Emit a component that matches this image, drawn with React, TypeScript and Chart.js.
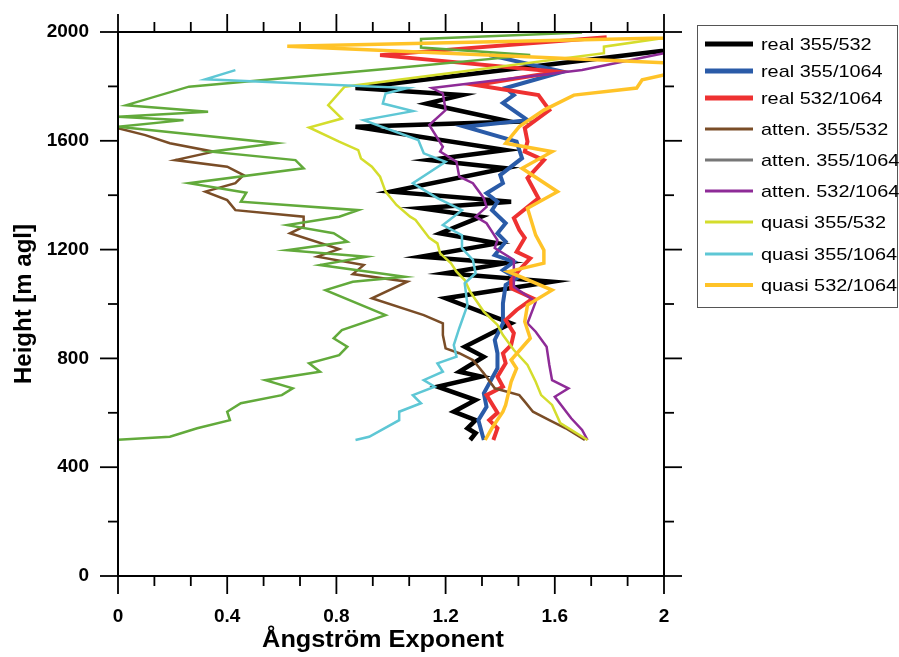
import React, { useEffect, useRef } from "react";
import { Chart, registerables } from "chart.js";

Chart.register(...registerables);

// ---- axis ticks ----
const xTickLabels = ["0", "0.4", "0.8", "1.2", "1.6", "2"];
const xMajorTicks = [0, 0.4, 0.8, 1.2, 1.6, 2.0];
const xMinorTicks = [0.1333, 0.2667, 0.5333, 0.6667, 0.9333, 1.0667, 1.3333, 1.4667, 1.7333, 1.8667];
const yTickLabels = ["0", "400", "800", "1200", "1600", "2000"];
const yMajorTicks = [0, 400, 800, 1200, 1600, 2000];
const yMinorTicks = [200, 600, 1000, 1400, 1800];

// ---- series: heights [m agl] and Angstrom exponents ----
const hReal355_532 = [500, 525, 543, 573, 604, 647, 696, 733, 751, 806, 843, 929, 1021, 1082, 1113, 1150, 1174, 1223, 1260, 1321, 1352, 1376, 1413, 1499, 1529, 1566, 1652, 1670, 1737, 1768, 1794, 1930, 1950];
const aeReal355_532 = [1.29, 1.31, 1.28, 1.31, 1.23, 1.31, 1.17, 1.33, 1.25, 1.34, 1.27, 1.44, 1.20, 1.59, 1.20, 1.42, 1.11, 1.39, 1.18, 1.33, 1.11, 1.44, 1.00, 1.42, 1.14, 1.42, 0.87, 1.44, 1.13, 1.26, 0.87, 1.99, 2.15];

const hReal355_1064 = [500, 573, 622, 672, 764, 819, 868, 929, 1002, 1070, 1095, 1125, 1155, 1180, 1229, 1260, 1297, 1345, 1376, 1407, 1444, 1474, 1536, 1597, 1652, 1676, 1739, 1768, 1794, 1854, 1915];
const aeReal355_1064 = [1.34, 1.32, 1.35, 1.34, 1.39, 1.39, 1.38, 1.41, 1.41, 1.42, 1.46, 1.41, 1.45, 1.38, 1.42, 1.39, 1.42, 1.37, 1.39, 1.35, 1.41, 1.40, 1.48, 1.46, 1.27, 1.50, 1.41, 1.45, 1.42, 1.63, 1.36];

const hReal532_1064 = [500, 543, 573, 600, 665, 696, 733, 782, 819, 849, 893, 941, 978, 1021, 1058, 1088, 1125, 1168, 1192, 1243, 1272, 1316, 1389, 1463, 1529, 1560, 1597, 1647, 1713, 1768, 1805, 1854, 1915, 1981];
const aeReal532_1064 = [1.375, 1.39, 1.36, 1.39, 1.35, 1.41, 1.39, 1.42, 1.41, 1.44, 1.45, 1.42, 1.46, 1.52, 1.44, 1.44, 1.47, 1.51, 1.46, 1.49, 1.47, 1.45, 1.54, 1.50, 1.56, 1.49, 1.50, 1.49, 1.58, 1.54, 1.31, 1.61, 0.96, 1.79];

const hAtten355_532 = [500, 543, 573, 604, 641, 665, 690, 745, 794, 819, 837, 886, 929, 959, 1021, 1082, 1110, 1143, 1174, 1202, 1260, 1284, 1321, 1345, 1382, 1413, 1444, 1474, 1505, 1529, 1560, 1591, 1621, 1646];
const aeAtten355_532 = [1.71, 1.64, 1.58, 1.52, 1.49, 1.47, 1.38, 1.34, 1.30, 1.25, 1.20, 1.19, 1.19, 1.12, 0.93, 1.06, 0.86, 0.90, 0.73, 0.81, 0.63, 0.68, 0.68, 0.43, 0.40, 0.32, 0.43, 0.46, 0.40, 0.21, 0.35, 0.19, 0.10, 0.0];

const hAtten355_1064 = [500, 512, 543, 573, 604, 635, 665, 690, 720, 751, 782, 812, 843, 874, 904, 959, 1051, 1082, 1100, 1143, 1174, 1198, 1229, 1260, 1290, 1321, 1345, 1376, 1409, 1444, 1499, 1529, 1560, 1591, 1652, 1676, 1688, 1707, 1731, 1799, 1866, 1915, 1943, 1974, 1998];
const aeAtten355_1064 = [-0.01, 0.19, 0.29, 0.41, 0.40, 0.45, 0.60, 0.64, 0.54, 0.74, 0.70, 0.81, 0.84, 0.79, 0.82, 0.98, 0.76, 0.86, 1.05, 0.74, 0.91, 0.62, 0.84, 0.79, 0.62, 0.81, 0.88, 0.45, 0.47, 0.26, 0.68, 0.65, 0.34, 0.58, 0.0, 0.24, 0.0, 0.33, 0.03, 0.26, 1.0, 1.51, 1.11, 1.11, 1.70];

const hAtten532_1064 = [500, 537, 580, 659, 690, 720, 776, 843, 898, 929, 1008, 1063, 1162, 1206, 1235, 1297, 1321, 1357, 1389, 1444, 1468, 1523, 1560, 1578, 1658, 1713, 1774, 1794, 1860, 1922, 1940];
const aeAtten532_1064 = [1.72, 1.70, 1.66, 1.60, 1.65, 1.59, 1.58, 1.57, 1.53, 1.50, 1.53, 1.45, 1.45, 1.38, 1.39, 1.35, 1.31, 1.35, 1.34, 1.30, 1.25, 1.24, 1.18, 1.19, 1.14, 1.20, 1.19, 1.15, 1.70, 2.0, 2.1];

const hQuasi355_532 = [500, 562, 629, 665, 714, 776, 831, 886, 923, 972, 1045, 1088, 1119, 1150, 1186, 1223, 1243, 1309, 1321, 1364, 1413, 1468, 1505, 1535, 1566, 1597, 1649, 1682, 1731, 1799, 1922, 1946, 1978];
const aeQuasi355_532 = [1.72, 1.62, 1.59, 1.55, 1.53, 1.50, 1.45, 1.41, 1.39, 1.34, 1.29, 1.27, 1.24, 1.22, 1.18, 1.17, 1.14, 1.09, 1.07, 1.02, 0.98, 0.96, 0.93, 0.89, 0.88, 0.81, 0.70, 0.82, 0.77, 0.83, 1.78, 1.78, 2.0];

const hQuasi355_1064 = [500, 512, 573, 604, 635, 665, 696, 720, 751, 782, 806, 849, 911, 996, 1076, 1113, 1162, 1205, 1253, 1290, 1345, 1389, 1444, 1523, 1554, 1603, 1676, 1709, 1737, 1774, 1794, 1826, 1860];
const aeQuasi355_1064 = [0.87, 0.92, 1.03, 1.03, 1.11, 1.08, 1.16, 1.12, 1.19, 1.17, 1.24, 1.23, 1.25, 1.28, 1.27, 1.31, 1.30, 1.26, 1.26, 1.19, 1.26, 1.17, 1.08, 1.20, 1.12, 1.10, 0.90, 1.08, 0.97, 0.98, 1.06, 0.32, 0.43];

const hQuasi532_1064 = [500, 544, 604, 629, 714, 763, 794, 874, 935, 996, 1051, 1119, 1150, 1198, 1253, 1352, 1413, 1499, 1560, 1591, 1652, 1713, 1768, 1794, 1824, 1842, 1886, 1948, 1978, 1990];
const aeQuasi532_1064 = [1.345, 1.37, 1.41, 1.42, 1.44, 1.46, 1.44, 1.51, 1.49, 1.50, 1.59, 1.43, 1.56, 1.56, 1.53, 1.50, 1.61, 1.48, 1.59, 1.42, 1.47, 1.56, 1.67, 1.90, 1.92, 2.0, 2.02, 0.62, 2.0, 2.2];

const seriesLabels = [
  "real 355/532", "real 355/1064", "real 532/1064",
  "atten. 355/532", "atten. 355/1064", "atten. 532/1064",
  "quasi 355/532", "quasi 355/1064", "quasi 532/1064",
];
const seriesHeights = [hReal355_532, hReal355_1064, hReal532_1064, hAtten355_532, hAtten355_1064, hAtten532_1064, hQuasi355_532, hQuasi355_1064, hQuasi532_1064];
const seriesValues = [aeReal355_532, aeReal355_1064, aeReal532_1064, aeAtten355_532, aeAtten355_1064, aeAtten532_1064, aeQuasi355_532, aeQuasi355_1064, aeQuasi532_1064];
const lineColors = ["#000000", "#2a5ba8", "#ee3131", "#7a4d27", "#62aa3b", "#8e2b97", "#d4dd2c", "#5ec7d5", "#ffc328"];
const legendColors = ["#000000", "#2a5ba8", "#ee3131", "#7a4d27", "#777777", "#8e2b97", "#d4dd2c", "#5ec7d5", "#ffc328"];
const lineWidths = [4.5, 4, 4, 2.5, 2.5, 2.5, 2.5, 2.5, 3.5];
const legendWidths = [5, 5, 5, 3, 3, 3, 3, 3, 4];

const FONT = '"Liberation Sans", Arial, Helvetica, sans-serif';

const framePlugin = {
  id: "frame",
  afterDraw(chart: any) {
    const { ctx, chartArea: a } = chart;
    const xs = chart.scales.x;
    const ys = chart.scales.y;
    ctx.save();
    ctx.strokeStyle = "#000";
    ctx.lineWidth = 2;
    ctx.beginPath();
    ctx.rect(a.left, a.top, a.right - a.left, a.bottom - a.top);
    ctx.stroke();
    const seg = (x1: number, y1: number, x2: number, y2: number) => {
      ctx.beginPath();
      ctx.moveTo(x1, y1);
      ctx.lineTo(x2, y2);
      ctx.stroke();
    };
    ctx.lineWidth = 1.8;
    const xt = (v: number, len: number) => {
      const p = xs.getPixelForValue(v);
      seg(p, a.bottom, p, a.bottom + len);
      seg(p, a.top, p, a.top - len);
    };
    const yt = (v: number, len: number) => {
      const p = ys.getPixelForValue(v);
      seg(a.left - len, p, a.left, p);
      seg(a.right, p, a.right + len, p);
    };
    xMajorTicks.forEach((v) => xt(v, 18));
    xMinorTicks.forEach((v) => xt(v, 10));
    yMajorTicks.forEach((v) => yt(v, 18));
    yMinorTicks.forEach((v) => yt(v, 10));

    // axis titles
    ctx.fillStyle = "#000";
    ctx.font = `bold 23px ${FONT}`;
    ctx.textAlign = "center";
    ctx.textBaseline = "alphabetic";
    ctx.save();
    ctx.translate(383, 647);
    ctx.scale(1.1, 1);
    ctx.fillText("Ångström Exponent", 0, 0);
    ctx.restore();
    ctx.save();
    ctx.translate(31, (a.top + a.bottom) / 2);
    ctx.rotate(-Math.PI / 2);
    ctx.font = `bold 24px ${FONT}`;
    ctx.fillText("Height [m agl]", 0, 0);
    ctx.restore();

    // legend
    const bx = 697.5, by = 25.5, bw = 200, bh = 282;
    ctx.strokeStyle = "#555";
    ctx.lineWidth = 1;
    ctx.strokeRect(bx, by, bw, bh);
    const rows = [44, 71, 98, 129, 160, 191, 222, 254, 285];
    ctx.font = `17px ${FONT}`;
    ctx.textAlign = "left";
    ctx.textBaseline = "middle";
    seriesLabels.forEach((lab, i) => {
      const yy = rows[i];
      ctx.strokeStyle = legendColors[i];
      ctx.lineWidth = legendWidths[i];
      seg(705, yy, 753, yy);
      ctx.save();
      ctx.translate(761, yy + 1);
      ctx.scale(1.17, 1);
      ctx.fillStyle = "#000";
      ctx.fillText(lab, 0, 0);
      ctx.restore();
    });
    ctx.restore();
  },
};

export default function App() {
  const ref = useRef<HTMLCanvasElement | null>(null);
  useEffect(() => {
    if (!ref.current) return;
    const datasets = seriesLabels.map((label, i) => ({
      label,
      data: seriesHeights[i].map((h, k) => ({ x: seriesValues[i][k], y: h })),
      borderColor: lineColors[i],
      backgroundColor: lineColors[i],
      borderWidth: lineWidths[i],
      pointRadius: 0,
      tension: 0,
      fill: false,
      clip: 0,
      order: 9 - i,
    }));
    const chart = new Chart(ref.current, {
      type: "line",
      data: { datasets },
      plugins: [framePlugin],
      options: {
        animation: false,
        responsive: false,
        devicePixelRatio: 1,
        layout: { padding: { left: 0, right: 235, top: 32, bottom: 0 } },
        plugins: { legend: { display: false }, tooltip: { enabled: false }, title: { display: false } },
        scales: {
          x: {
            type: "linear",
            min: 0,
            max: 2,
            grid: { display: false, drawTicks: false },
            border: { display: false },
            afterFit: (s: any) => { s.height = 81; s.paddingLeft = 0; s.paddingRight = 0; },
            afterBuildTicks: (s: any) => { s.ticks = xMajorTicks.map((v) => ({ value: v })); },
            ticks: {
              padding: 29,
              color: "#000",
              font: { family: FONT, size: 19, weight: "bold" },
              maxRotation: 0,
              autoSkip: false,
              callback: (_v: any, i: number) => xTickLabels[i],
            },
          },
          y: {
            type: "linear",
            min: 0,
            max: 2000,
            grid: { display: false, drawTicks: false },
            border: { display: false },
            afterFit: (s: any) => { s.width = 118; s.paddingTop = 0; s.paddingBottom = 0; },
            afterBuildTicks: (s: any) => { s.ticks = yMajorTicks.map((v) => ({ value: v })); },
            ticks: {
              padding: 29,
              color: "#000",
              font: { family: FONT, size: 19, weight: "bold" },
              autoSkip: false,
              callback: (_v: any, i: number) => yTickLabels[i],
            },
          },
        },
      },
    });
    return () => chart.destroy();
  }, []);
  return (
    <div style={{ position: "fixed", left: 0, top: 0, width: 899, height: 657, background: "#fff" }}>
      <canvas ref={ref} width={899} height={657} style={{ display: "block", width: 899, height: 657 }} />
    </div>
  );
}
